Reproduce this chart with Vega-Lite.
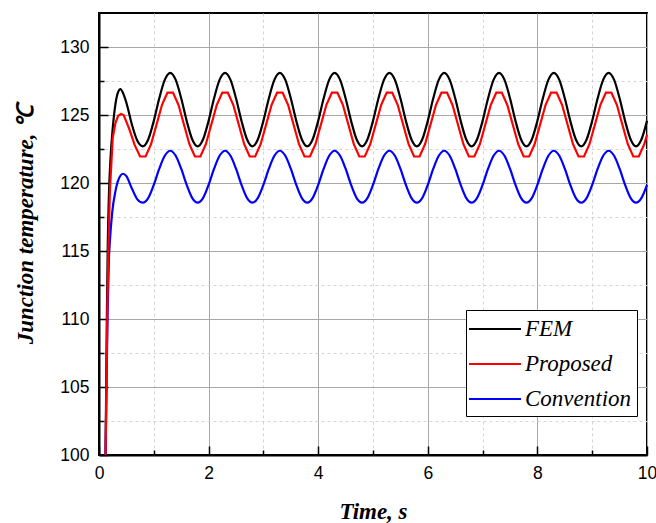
{
"$schema":"https://vega.github.io/schema/vega-lite/v6.json",
"width":548,"height":442,
"autosize":{"type":"none"},
"padding":{"left":99,"top":13,"right":9,"bottom":68},
"background":"white",
"title":{"text":"(a)","font":"Liberation Serif","fontSize":22,"fontWeight":"normal","color":"black","anchor":"middle","dx":-35,"offset":14,"baseline":"alphabetic"},
"data":{"values":[
{"s":"FEM","t":0.12,"v":100},{"s":"FEM","t":0.14,"v":109},{"s":"FEM","t":0.16,"v":115.5},{"s":"FEM","t":0.18,"v":119},{"s":"FEM","t":0.21,"v":121.8},{"s":"FEM","t":0.25,"v":124.0},{"s":"FEM","t":0.3,"v":125.8},{"s":"FEM","t":0.35,"v":126.7},{"s":"FEM","t":0.39,"v":126.9},{"s":"FEM","t":0.45,"v":126.5},{"s":"FEM","t":0.5,"v":125.9},{"s":"FEM","t":0.6,"v":124.3},{"s":"FEM","t":0.7,"v":123.1},
{"s":"FEM","t":0.8,"v":122.7},{"s":"FEM","t":0.9,"v":123.22},{"s":"FEM","t":1.0,"v":124.57},{"s":"FEM","t":1.1,"v":126.23},{"s":"FEM","t":1.2,"v":127.58},{"s":"FEM","t":1.3,"v":128.1},{"s":"FEM","t":1.4,"v":127.58},{"s":"FEM","t":1.5,"v":126.23},{"s":"FEM","t":1.6,"v":124.57},{"s":"FEM","t":1.7,"v":123.22},
{"s":"FEM","t":1.8,"v":122.7},{"s":"FEM","t":1.9,"v":123.22},{"s":"FEM","t":2.0,"v":124.57},{"s":"FEM","t":2.1,"v":126.23},{"s":"FEM","t":2.2,"v":127.58},{"s":"FEM","t":2.3,"v":128.1},{"s":"FEM","t":2.4,"v":127.58},{"s":"FEM","t":2.5,"v":126.23},{"s":"FEM","t":2.6,"v":124.57},{"s":"FEM","t":2.7,"v":123.22},
{"s":"FEM","t":2.8,"v":122.7},{"s":"FEM","t":2.9,"v":123.22},{"s":"FEM","t":3.0,"v":124.57},{"s":"FEM","t":3.1,"v":126.23},{"s":"FEM","t":3.2,"v":127.58},{"s":"FEM","t":3.3,"v":128.1},{"s":"FEM","t":3.4,"v":127.58},{"s":"FEM","t":3.5,"v":126.23},{"s":"FEM","t":3.6,"v":124.57},{"s":"FEM","t":3.7,"v":123.22},
{"s":"FEM","t":3.8,"v":122.7},{"s":"FEM","t":3.9,"v":123.22},{"s":"FEM","t":4.0,"v":124.57},{"s":"FEM","t":4.1,"v":126.23},{"s":"FEM","t":4.2,"v":127.58},{"s":"FEM","t":4.3,"v":128.1},{"s":"FEM","t":4.4,"v":127.58},{"s":"FEM","t":4.5,"v":126.23},{"s":"FEM","t":4.6,"v":124.57},{"s":"FEM","t":4.7,"v":123.22},
{"s":"FEM","t":4.8,"v":122.7},{"s":"FEM","t":4.9,"v":123.22},{"s":"FEM","t":5.0,"v":124.57},{"s":"FEM","t":5.1,"v":126.23},{"s":"FEM","t":5.2,"v":127.58},{"s":"FEM","t":5.3,"v":128.1},{"s":"FEM","t":5.4,"v":127.58},{"s":"FEM","t":5.5,"v":126.23},{"s":"FEM","t":5.6,"v":124.57},{"s":"FEM","t":5.7,"v":123.22},
{"s":"FEM","t":5.8,"v":122.7},{"s":"FEM","t":5.9,"v":123.22},{"s":"FEM","t":6.0,"v":124.57},{"s":"FEM","t":6.1,"v":126.23},{"s":"FEM","t":6.2,"v":127.58},{"s":"FEM","t":6.3,"v":128.1},{"s":"FEM","t":6.4,"v":127.58},{"s":"FEM","t":6.5,"v":126.23},{"s":"FEM","t":6.6,"v":124.57},{"s":"FEM","t":6.7,"v":123.22},
{"s":"FEM","t":6.8,"v":122.7},{"s":"FEM","t":6.9,"v":123.22},{"s":"FEM","t":7.0,"v":124.57},{"s":"FEM","t":7.1,"v":126.23},{"s":"FEM","t":7.2,"v":127.58},{"s":"FEM","t":7.3,"v":128.1},{"s":"FEM","t":7.4,"v":127.58},{"s":"FEM","t":7.5,"v":126.23},{"s":"FEM","t":7.6,"v":124.57},{"s":"FEM","t":7.7,"v":123.22},
{"s":"FEM","t":7.8,"v":122.7},{"s":"FEM","t":7.9,"v":123.22},{"s":"FEM","t":8.0,"v":124.57},{"s":"FEM","t":8.1,"v":126.23},{"s":"FEM","t":8.2,"v":127.58},{"s":"FEM","t":8.3,"v":128.1},{"s":"FEM","t":8.4,"v":127.58},{"s":"FEM","t":8.5,"v":126.23},{"s":"FEM","t":8.6,"v":124.57},{"s":"FEM","t":8.7,"v":123.22},
{"s":"FEM","t":8.8,"v":122.7},{"s":"FEM","t":8.9,"v":123.22},{"s":"FEM","t":9.0,"v":124.57},{"s":"FEM","t":9.1,"v":126.23},{"s":"FEM","t":9.2,"v":127.58},{"s":"FEM","t":9.3,"v":128.1},{"s":"FEM","t":9.4,"v":127.58},{"s":"FEM","t":9.5,"v":126.23},{"s":"FEM","t":9.6,"v":124.57},{"s":"FEM","t":9.7,"v":123.22},
{"s":"FEM","t":9.8,"v":122.7},{"s":"FEM","t":9.9,"v":123.22},{"s":"FEM","t":10.0,"v":124.57},
{"s":"Convention","t":0.12,"v":100},{"s":"Convention","t":0.14,"v":106},{"s":"Convention","t":0.16,"v":111},{"s":"Convention","t":0.18,"v":114.3},{"s":"Convention","t":0.2,"v":115.8},{"s":"Convention","t":0.24,"v":117.8},{"s":"Convention","t":0.3,"v":119.4},{"s":"Convention","t":0.35,"v":120.2},{"s":"Convention","t":0.44,"v":120.68},{"s":"Convention","t":0.5,"v":120.5},{"s":"Convention","t":0.6,"v":119.6},{"s":"Convention","t":0.7,"v":118.8},
{"s":"Convention","t":0.8,"v":118.55},{"s":"Convention","t":0.9,"v":118.91},{"s":"Convention","t":1.0,"v":119.87},{"s":"Convention","t":1.1,"v":121.05},{"s":"Convention","t":1.2,"v":122.0},{"s":"Convention","t":1.3,"v":122.37},{"s":"Convention","t":1.4,"v":122.0},{"s":"Convention","t":1.5,"v":121.05},{"s":"Convention","t":1.6,"v":119.87},{"s":"Convention","t":1.7,"v":118.91},
{"s":"Convention","t":1.8,"v":118.55},{"s":"Convention","t":1.9,"v":118.91},{"s":"Convention","t":2.0,"v":119.87},{"s":"Convention","t":2.1,"v":121.05},{"s":"Convention","t":2.2,"v":122.0},{"s":"Convention","t":2.3,"v":122.37},{"s":"Convention","t":2.4,"v":122.0},{"s":"Convention","t":2.5,"v":121.05},{"s":"Convention","t":2.6,"v":119.87},{"s":"Convention","t":2.7,"v":118.91},
{"s":"Convention","t":2.8,"v":118.55},{"s":"Convention","t":2.9,"v":118.91},{"s":"Convention","t":3.0,"v":119.87},{"s":"Convention","t":3.1,"v":121.05},{"s":"Convention","t":3.2,"v":122.0},{"s":"Convention","t":3.3,"v":122.37},{"s":"Convention","t":3.4,"v":122.0},{"s":"Convention","t":3.5,"v":121.05},{"s":"Convention","t":3.6,"v":119.87},{"s":"Convention","t":3.7,"v":118.91},
{"s":"Convention","t":3.8,"v":118.55},{"s":"Convention","t":3.9,"v":118.91},{"s":"Convention","t":4.0,"v":119.87},{"s":"Convention","t":4.1,"v":121.05},{"s":"Convention","t":4.2,"v":122.0},{"s":"Convention","t":4.3,"v":122.37},{"s":"Convention","t":4.4,"v":122.0},{"s":"Convention","t":4.5,"v":121.05},{"s":"Convention","t":4.6,"v":119.87},{"s":"Convention","t":4.7,"v":118.91},
{"s":"Convention","t":4.8,"v":118.55},{"s":"Convention","t":4.9,"v":118.91},{"s":"Convention","t":5.0,"v":119.87},{"s":"Convention","t":5.1,"v":121.05},{"s":"Convention","t":5.2,"v":122.0},{"s":"Convention","t":5.3,"v":122.37},{"s":"Convention","t":5.4,"v":122.0},{"s":"Convention","t":5.5,"v":121.05},{"s":"Convention","t":5.6,"v":119.87},{"s":"Convention","t":5.7,"v":118.91},
{"s":"Convention","t":5.8,"v":118.55},{"s":"Convention","t":5.9,"v":118.91},{"s":"Convention","t":6.0,"v":119.87},{"s":"Convention","t":6.1,"v":121.05},{"s":"Convention","t":6.2,"v":122.0},{"s":"Convention","t":6.3,"v":122.37},{"s":"Convention","t":6.4,"v":122.0},{"s":"Convention","t":6.5,"v":121.05},{"s":"Convention","t":6.6,"v":119.87},{"s":"Convention","t":6.7,"v":118.91},
{"s":"Convention","t":6.8,"v":118.55},{"s":"Convention","t":6.9,"v":118.91},{"s":"Convention","t":7.0,"v":119.87},{"s":"Convention","t":7.1,"v":121.05},{"s":"Convention","t":7.2,"v":122.0},{"s":"Convention","t":7.3,"v":122.37},{"s":"Convention","t":7.4,"v":122.0},{"s":"Convention","t":7.5,"v":121.05},{"s":"Convention","t":7.6,"v":119.87},{"s":"Convention","t":7.7,"v":118.91},
{"s":"Convention","t":7.8,"v":118.55},{"s":"Convention","t":7.9,"v":118.91},{"s":"Convention","t":8.0,"v":119.87},{"s":"Convention","t":8.1,"v":121.05},{"s":"Convention","t":8.2,"v":122.0},{"s":"Convention","t":8.3,"v":122.37},{"s":"Convention","t":8.4,"v":122.0},{"s":"Convention","t":8.5,"v":121.05},{"s":"Convention","t":8.6,"v":119.87},{"s":"Convention","t":8.7,"v":118.91},
{"s":"Convention","t":8.8,"v":118.55},{"s":"Convention","t":8.9,"v":118.91},{"s":"Convention","t":9.0,"v":119.87},{"s":"Convention","t":9.1,"v":121.05},{"s":"Convention","t":9.2,"v":122.0},{"s":"Convention","t":9.3,"v":122.37},{"s":"Convention","t":9.4,"v":122.0},{"s":"Convention","t":9.5,"v":121.05},{"s":"Convention","t":9.6,"v":119.87},{"s":"Convention","t":9.7,"v":118.91},
{"s":"Convention","t":9.8,"v":118.55},{"s":"Convention","t":9.9,"v":118.91},{"s":"Convention","t":10.0,"v":119.87},
{"s":"Proposed","t":0.12,"v":100},{"s":"Proposed","t":0.15,"v":110},{"s":"Proposed","t":0.17,"v":115},{"s":"Proposed","t":0.2,"v":119.5},{"s":"Proposed","t":0.25,"v":123.3},{"s":"Proposed","t":0.3,"v":124.4},{"s":"Proposed","t":0.35,"v":124.95},{"s":"Proposed","t":0.4,"v":125.07},{"s":"Proposed","t":0.45,"v":125.0},{"s":"Proposed","t":0.55,"v":124.0},{"s":"Proposed","t":0.65,"v":122.8},{"s":"Proposed","t":0.75,"v":121.95},{"s":"Proposed","t":0.85,"v":121.95},
{"s":"Proposed","t":0.95,"v":122.85},{"s":"Proposed","t":1.05,"v":124.3},{"s":"Proposed","t":1.15,"v":125.75},{"s":"Proposed","t":1.25,"v":126.65},{"s":"Proposed","t":1.35,"v":126.65},{"s":"Proposed","t":1.45,"v":125.75},{"s":"Proposed","t":1.55,"v":124.3},{"s":"Proposed","t":1.65,"v":122.85},{"s":"Proposed","t":1.75,"v":121.95},{"s":"Proposed","t":1.85,"v":121.95},
{"s":"Proposed","t":1.95,"v":122.85},{"s":"Proposed","t":2.05,"v":124.3},{"s":"Proposed","t":2.15,"v":125.75},{"s":"Proposed","t":2.25,"v":126.65},{"s":"Proposed","t":2.35,"v":126.65},{"s":"Proposed","t":2.45,"v":125.75},{"s":"Proposed","t":2.55,"v":124.3},{"s":"Proposed","t":2.65,"v":122.85},{"s":"Proposed","t":2.75,"v":121.95},{"s":"Proposed","t":2.85,"v":121.95},
{"s":"Proposed","t":2.95,"v":122.85},{"s":"Proposed","t":3.05,"v":124.3},{"s":"Proposed","t":3.15,"v":125.75},{"s":"Proposed","t":3.25,"v":126.65},{"s":"Proposed","t":3.35,"v":126.65},{"s":"Proposed","t":3.45,"v":125.75},{"s":"Proposed","t":3.55,"v":124.3},{"s":"Proposed","t":3.65,"v":122.85},{"s":"Proposed","t":3.75,"v":121.95},{"s":"Proposed","t":3.85,"v":121.95},
{"s":"Proposed","t":3.95,"v":122.85},{"s":"Proposed","t":4.05,"v":124.3},{"s":"Proposed","t":4.15,"v":125.75},{"s":"Proposed","t":4.25,"v":126.65},{"s":"Proposed","t":4.35,"v":126.65},{"s":"Proposed","t":4.45,"v":125.75},{"s":"Proposed","t":4.55,"v":124.3},{"s":"Proposed","t":4.65,"v":122.85},{"s":"Proposed","t":4.75,"v":121.95},{"s":"Proposed","t":4.85,"v":121.95},
{"s":"Proposed","t":4.95,"v":122.85},{"s":"Proposed","t":5.05,"v":124.3},{"s":"Proposed","t":5.15,"v":125.75},{"s":"Proposed","t":5.25,"v":126.65},{"s":"Proposed","t":5.35,"v":126.65},{"s":"Proposed","t":5.45,"v":125.75},{"s":"Proposed","t":5.55,"v":124.3},{"s":"Proposed","t":5.65,"v":122.85},{"s":"Proposed","t":5.75,"v":121.95},{"s":"Proposed","t":5.85,"v":121.95},
{"s":"Proposed","t":5.95,"v":122.85},{"s":"Proposed","t":6.05,"v":124.3},{"s":"Proposed","t":6.15,"v":125.75},{"s":"Proposed","t":6.25,"v":126.65},{"s":"Proposed","t":6.35,"v":126.65},{"s":"Proposed","t":6.45,"v":125.75},{"s":"Proposed","t":6.55,"v":124.3},{"s":"Proposed","t":6.65,"v":122.85},{"s":"Proposed","t":6.75,"v":121.95},{"s":"Proposed","t":6.85,"v":121.95},
{"s":"Proposed","t":6.95,"v":122.85},{"s":"Proposed","t":7.05,"v":124.3},{"s":"Proposed","t":7.15,"v":125.75},{"s":"Proposed","t":7.25,"v":126.65},{"s":"Proposed","t":7.35,"v":126.65},{"s":"Proposed","t":7.45,"v":125.75},{"s":"Proposed","t":7.55,"v":124.3},{"s":"Proposed","t":7.65,"v":122.85},{"s":"Proposed","t":7.75,"v":121.95},{"s":"Proposed","t":7.85,"v":121.95},
{"s":"Proposed","t":7.95,"v":122.85},{"s":"Proposed","t":8.05,"v":124.3},{"s":"Proposed","t":8.15,"v":125.75},{"s":"Proposed","t":8.25,"v":126.65},{"s":"Proposed","t":8.35,"v":126.65},{"s":"Proposed","t":8.45,"v":125.75},{"s":"Proposed","t":8.55,"v":124.3},{"s":"Proposed","t":8.65,"v":122.85},{"s":"Proposed","t":8.75,"v":121.95},{"s":"Proposed","t":8.85,"v":121.95},
{"s":"Proposed","t":8.95,"v":122.85},{"s":"Proposed","t":9.05,"v":124.3},{"s":"Proposed","t":9.15,"v":125.75},{"s":"Proposed","t":9.25,"v":126.65},{"s":"Proposed","t":9.35,"v":126.65},{"s":"Proposed","t":9.45,"v":125.75},{"s":"Proposed","t":9.55,"v":124.3},{"s":"Proposed","t":9.65,"v":122.85},{"s":"Proposed","t":9.75,"v":121.95},{"s":"Proposed","t":9.85,"v":121.95},
{"s":"Proposed","t":9.95,"v":122.85},{"s":"Proposed","t":10.0,"v":123.55}
]},
"config":{
  "view":{"stroke":"black","strokeWidth":2},
  "legend":{"orient":"none","legendX":367,"legendY":297,"strokeColor":"black","strokeWidth":1,"fillColor":"white","padding":5,"symbolType":"M-2,0H2","symbolSize":676,"symbolOffset":10,"symbolStrokeWidth":2,"labelFont":"Liberation Serif","labelFontStyle":"italic","labelFontSize":23,"labelColor":"black","labelOffset":16,"rowPadding":9,"cornerRadius":0}
},
"layer":[
 {
  "transform":[{"filter":"datum.s !== 'Proposed'"}],
  "mark":{"type":"line","interpolate":"monotone","strokeWidth":2.2},
  "encoding":{
   "x":{"field":"t","type":"quantitative","scale":{"domain":[0,10],"nice":false},
     "axis":{"orient":"bottom","values":[0,2,4,6,8,10],"title":"Time, s","titleFont":"Liberation Serif","titleFontSize":23,"titleFontStyle":"italic","titleFontWeight":"bold","titleColor":"black","titleY":63,"titleBaseline":"alphabetic","labelFont":"Liberation Sans","labelFontSize":17.5,"labelColor":"black","labelPadding":18,"labelFlush":false,"labelOverlap":false,"tickSize":-9,"tickColor":"black","tickWidth":1.5,"domainColor":"black","domainWidth":2,"grid":true,"gridColor":"#a8a8a8","gridWidth":1}},
   "y":{"field":"v","type":"quantitative","scale":{"domain":[100,132.5],"nice":false},
     "axis":{"orient":"left","values":[100,105,110,115,120,125,130],"title":"Junction temperature, ℃","titleFont":"Liberation Serif","titleFontSize":23,"titleFontStyle":"italic","titleFontWeight":"bold","titleColor":"black","titleX":-62,"titleY":211,"titleBaseline":"bottom","titleAngle":-90,"labelFont":"Liberation Sans","labelFontSize":17.5,"labelColor":"black","labelPadding":19,"labelOverlap":false,"labelFlush":false,"tickSize":-9,"tickColor":"black","tickWidth":1.5,"domainColor":"black","domainWidth":2,"grid":true,"gridColor":"#a8a8a8","gridWidth":1}},
   "color":{"field":"s","type":"nominal","scale":{"domain":["FEM","Proposed","Convention"],"range":["#000000","#ff0000","#0000ff"]},"legend":{"title":null}}
  }
 },
 {
  "transform":[{"filter":"datum.s === 'Proposed'"}],
  "mark":{"type":"line","strokeWidth":2.2},
  "encoding":{
   "x":{"field":"t","type":"quantitative","scale":{"domain":[0,10],"nice":false},
     "axis":{"orient":"bottom","values":[1,3,5,7,9],"title":null,"labels":false,"domain":false,"tickSize":-5,"tickColor":"black","tickWidth":1.5,"grid":true,"gridColor":"#d4d4d4","gridWidth":1,"gridDash":[3,3]}},
   "y":{"field":"v","type":"quantitative","scale":{"domain":[100,132.5],"nice":false},
     "axis":{"orient":"left","values":[102.5,107.5,112.5,117.5,122.5,127.5],"title":null,"labels":false,"domain":false,"tickSize":-5,"tickColor":"black","tickWidth":1.5,"grid":true,"gridColor":"#d4d4d4","gridWidth":1,"gridDash":[3,3]}},
   "color":{"field":"s","type":"nominal","scale":{"domain":["FEM","Proposed","Convention"],"range":["#000000","#ff0000","#0000ff"]},"legend":{"title":null}}
  }
 }
],
"resolve":{"axis":{"x":"independent","y":"independent"}}
}
